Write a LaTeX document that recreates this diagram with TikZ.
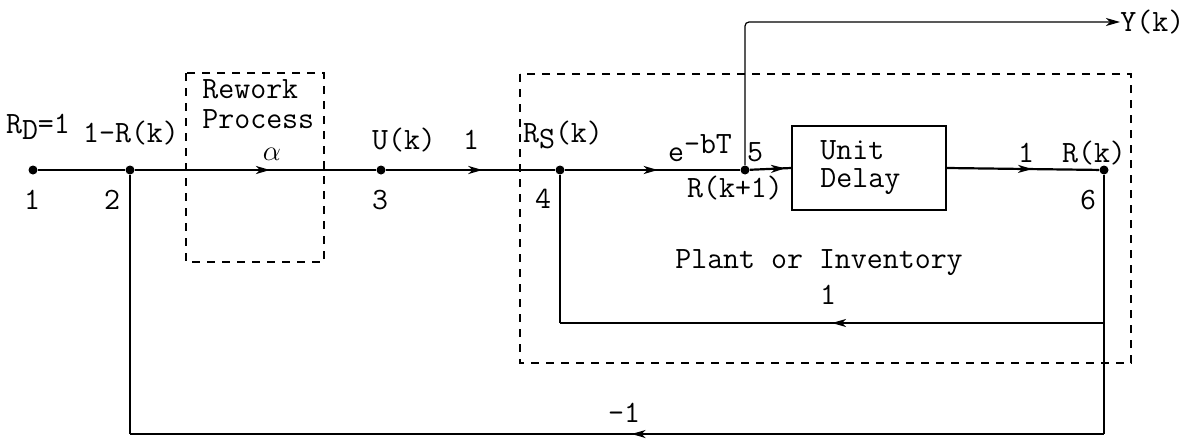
\documentclass[tikz,border=0pt]{standalone}
\usetikzlibrary{arrows.meta,decorations.markings}
\begin{document}
\begin{tikzpicture}[x=0.5pt,y=-0.5pt,
  every node/.style={font=\fontsize{15.5}{17}\ttfamily,inner sep=0pt},
  dot/.style={circle,fill=black,minimum size=4.5pt,inner sep=0pt},
  sig/.style={line width=1.1pt},
  fb/.style={line width=0.8pt},
  thin/.style={line width=0.6pt},
  dbox/.style={line width=0.7pt,dash pattern=on 4pt off 3.5pt},
  arr/.style={postaction={decorate},decoration={markings,mark=at position #1 with {\arrow{Stealth[length=7pt,width=4pt,inset=2pt]}}}}
]
\useasboundingbox (0,0) rectangle (1184,439);
% dashed boxes
\draw[dbox] (186,73) rectangle (324,262);
\draw[dbox] (520,74) rectangle (1131,363);
% nodes
\node[dot] (n1) at (33,170) {};
\node[dot] (n2) at (130,170) {};
\node[dot] (n3) at (381,170) {};
\node[dot] (n4) at (560,170) {};
\node[dot] (n5) at (745,170) {};
\node[dot] (n6) at (1104,170) {};
\node[draw,line width=0.8pt,minimum width=77pt,minimum height=42pt] (ud) at (869,168) {};
\node[align=left,anchor=west] (udt) at (820,168) {Unit\\[-3pt]Delay};
\coordinate (bl) at (130,434);
\coordinate (br) at (1104,434);
\coordinate (il) at (560,323);
\coordinate (ir) at (1104,323);
\coordinate (yc) at (745,22);
\coordinate (yend) at (1120,22);
% main path
\draw[sig] (n1) -- (n2);
\draw[sig,arr=0.56] (n2) -- (n3);
\draw[sig,arr=0.57] (n3) -- (n4);
\draw[sig,arr=0.53] (n4) -- (n5);
\draw[sig,arr=0.85] (n5) -- (ud.west);
\draw[sig,arr=0.56] (ud.east) -- (n6);
% output
\draw[thin,-{Stealth[length=7pt,width=4pt,inset=2pt]},rounded corners=2pt] (n5) -- (yc) -- (yend);
% inner feedback
\draw[thin] (n6) -- (ir);
\draw[fb,arr=0.5] (ir) -- (il);
\draw[thin] (il) -- (n4);
% outer feedback
\draw[thin] (ir) -- (br);
\draw[fb,arr=0.485] (br) -- (bl);
\draw[thin] (bl) -- (n2);
% labels
\node (l1) at (32,200) {1};
\node (l2) at (112,200) {2};
\node (l3) at (380,200) {3};
\node (l4) at (543,199) {4};
\node (l5) at (755,152) {5};
\node (l6) at (1088,200) {6};
\node (rd) at (38,127) {R\raisebox{-0.5ex}{D}=1};
\node (rk1) at (131,133) {1-R(k)};
\node[align=left,anchor=west] (rw) at (202,104) {Rework\\[-2pt]Process};
\node (al) at (272,154) {$\alpha$};
\node (uk) at (404,140) {U(k)};
\node (one1) at (471,140) {1};
\node (rs) at (563,135) {R\raisebox{-0.5ex}{S}(k)};
\node (ebt) at (700,148) {e\raisebox{0.6ex}{-bT}};
\node (rkp) at (735,188) {R(k+1)};
\node (one2) at (1026,153) {1};
\node (rk) at (1094,153) {R(k)};
\node (pi) at (819,263) {Plant or Inventory};
\node (one3) at (828,295) {1};
\node (m1) at (624,413) {-1};
\node[anchor=west] (yk) at (1120,22) {Y(k)};
\end{tikzpicture}
\end{document}
